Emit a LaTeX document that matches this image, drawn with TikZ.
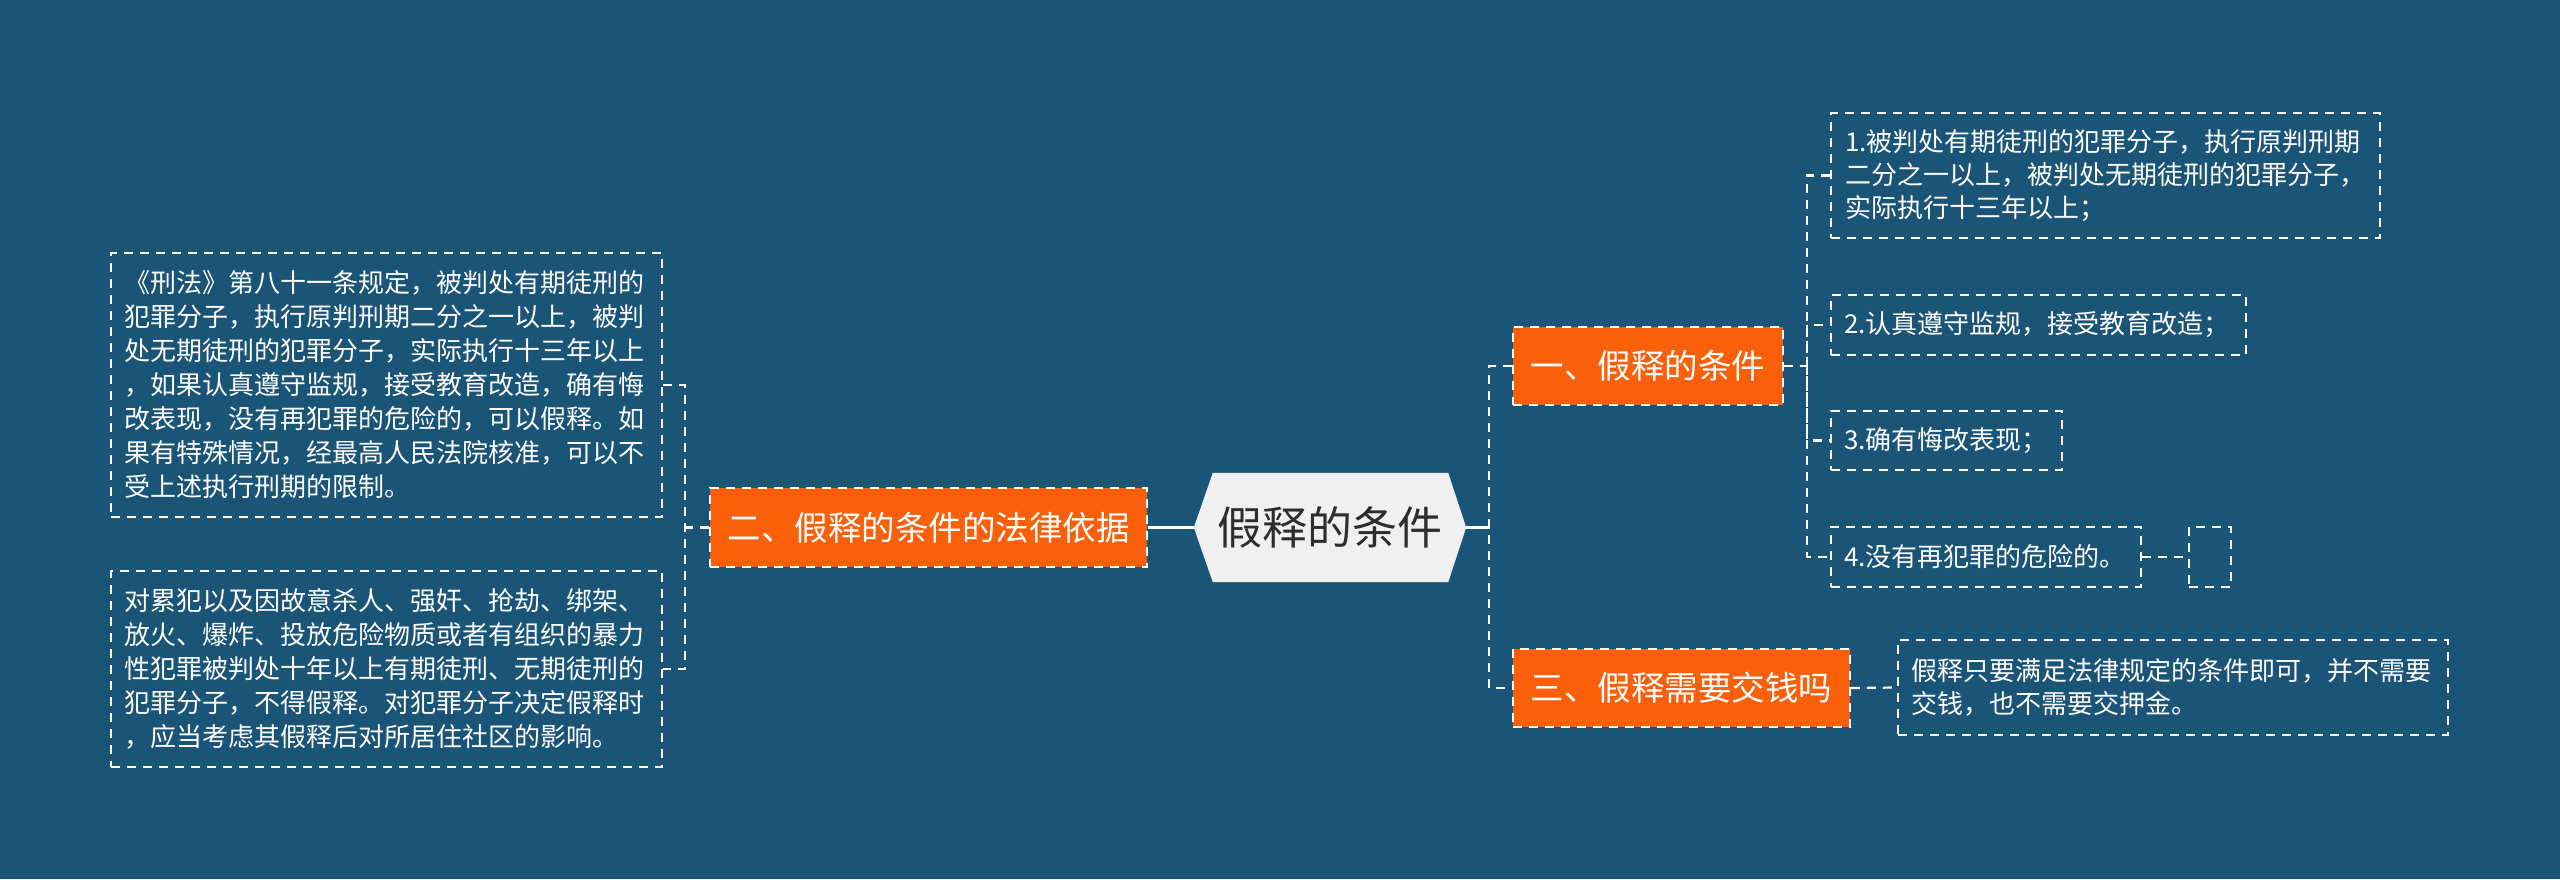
\documentclass[tikz,border=0pt]{standalone}
\usepackage{fontspec}
\newfontfamily\cjk{Noto Sans CJK SC}
\usetikzlibrary{calc,backgrounds}
\definecolor{bg}{RGB}{26,84,119}
\definecolor{org}{RGB}{250,96,10}
\definecolor{hexc}{RGB}{240,240,240}
\definecolor{ink}{RGB}{45,45,45}
\begin{document}
\begin{tikzpicture}[x=1pt,y=-1pt,
  leaf/.style={draw=white, line width=1.8pt, dash pattern=on 9pt off 7pt, text=white, inner sep=0pt, align=left, font=\cjk\fontsize{26}{34}\selectfont},
  rleaf/.style={leaf, font=\cjk\fontsize{26}{33}\selectfont},
  topic/.style={fill=org, draw=white, line width=1.8pt, dash pattern=on 9pt off 7pt, text=white, inner sep=0pt, font=\cjk\fontsize{33.5}{40}\selectfont},
  centre/.style={inner sep=0pt, text=ink, font=\cjk\fontsize{45}{50}\selectfont},
  conn/.style={draw=white, line width=2.2pt, dash pattern=on 9pt off 7pt},
  trunk/.style={draw=white, line width=3pt},
]
% centre
\node[centre, minimum width=272pt, minimum height=109pt] (c) at (1330,527.5) {假释的条件};
\begin{scope}[on background layer]
\fill[bg] (0,0) rectangle (2560,879);
\fill[hexc] (c.west) -- ($(c.north west)+(19,0)$) -- ($(c.north east)+(-18,0)$) -- (c.east) -- ($(c.south east)+(-18,0)$) -- ($(c.south west)+(19,0)$) -- cycle;
\end{scope}

% left side
\node[topic, minimum width=437pt, minimum height=79pt] (o2) at (928.5,527.5) {二、假释的条件的法律依据};
\node[leaf, minimum width=551pt, minimum height=264pt, text width=525pt] (l1) at (386.5,385) {《刑法》第八十一条规定，被判处有期徒刑的\\犯罪分子，执行原判刑期二分之一以上，被判\\处无期徒刑的犯罪分子，实际执行十三年以上\\，如果认真遵守监规，接受教育改造，确有悔\\改表现，没有再犯罪的危险的，可以假释。如\\果有特殊情况，经最高人民法院核准，可以不\\受上述执行刑期的限制。};
\node[leaf, minimum width=551pt, minimum height=196pt, text width=525pt] (l2) at (386.5,669) {对累犯以及因故意杀人、强奸、抢劫、绑架、\\放火、爆炸、投放危险物质或者有组织的暴力\\性犯罪被判处十年以上有期徒刑、无期徒刑的\\犯罪分子，不得假释。对犯罪分子决定假释时\\，应当考虑其假释后对所居住社区的影响。};

% right side
\node[topic, minimum width=270pt, minimum height=78pt] (o1) at (1648,366) {一、假释的条件};
\node[topic, minimum width=337pt, minimum height=78pt] (o3) at (1681.5,688) {三、假释需要交钱吗};
\node[rleaf, minimum width=549pt, minimum height=125pt, text width=521pt] (r1) at (2105.5,175.5) {1.被判处有期徒刑的犯罪分子，执行原判刑期\\二分之一以上，被判处无期徒刑的犯罪分子，\\实际执行十三年以上；};
\node[rleaf, minimum width=415pt, minimum height=60pt, text width=389pt] (r2) at (2038.5,325) {2.认真遵守监规，接受教育改造；};
\node[rleaf, minimum width=231pt, minimum height=59pt, text width=205pt] (r3) at (1946.5,440.5) {3.确有悔改表现；};
\node[rleaf, minimum width=310pt, minimum height=60pt, text width=284pt] (r4) at (1986,557) {4.没有再犯罪的危险的。};
\node[rleaf, minimum width=42pt, minimum height=60pt] (sm) at (2210,557) {};
\node[rleaf, minimum width=550pt, minimum height=95pt, text width=524pt] (ans) at (2173,687.5) {假释只要满足法律规定的条件即可，并不需要\\交钱，也不需要交押金。};

% junctions
\coordinate (jl) at (685,527.5);
\coordinate (jr) at (1489,527.5);
\coordinate (jr1) at (1807,366);

% connectors
\draw[trunk] (c.west) -- (o2.east);
\draw[trunk] (c.east) -- (jr);
\draw[conn] (o2.west) -- (jl);
\draw[conn] (l1.east) -| (jl) |- (l2.east);
\draw[conn] (o1.west) -| (jr) |- (o3.west);
\draw[conn] (o1.east) -- (jr1);
\draw[conn] (r1.west) -| (jr1) |- (r4.west);
\draw[conn] (jr1) |- (r2.west);
\draw[conn] (jr1) |- (r3.west);
\draw[conn] (r4.east) -- (sm.west);
\draw[conn] (o3.east) -- (ans.west);
\end{tikzpicture}
\end{document}
